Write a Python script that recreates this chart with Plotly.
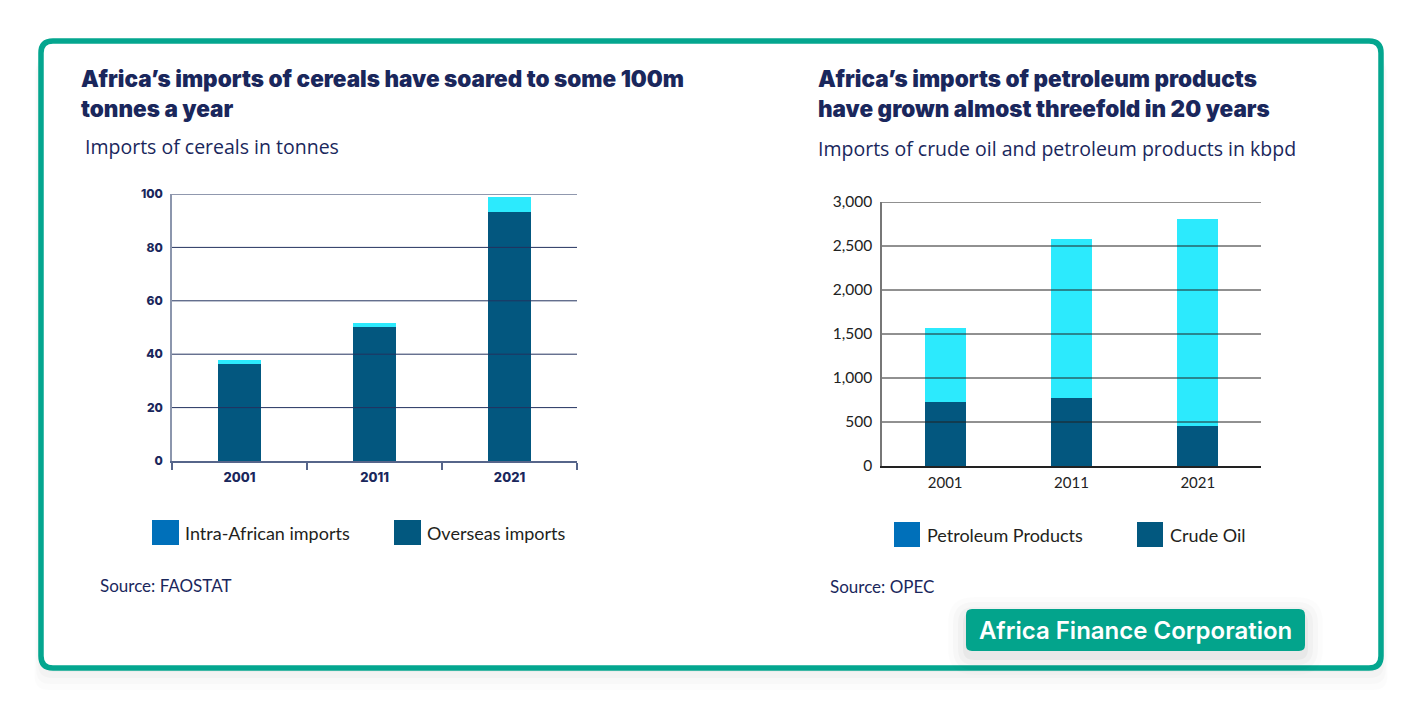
import plotly.graph_objects as go

# ---------------- data ----------------
years = ["2001", "2011", "2021"]
overseas_imports = [36.4, 50.3, 93.3]        # million tonnes
intra_african_imports = [1.4, 1.3, 5.6]      # million tonnes
cereal_ticks = [0, 20, 40, 60, 80, 100]

crude_oil = [726, 771, 452]                  # kbpd
petroleum_products = [843, 1812, 2359]       # kbpd
oil_ticks = [0, 500, 1000, 1500, 2000, 2500, 3000]

# ---------------- styling ----------------
W, H = 1421, 709
OFF = 8          # page body margin compensation
NAVY = "#1a275c"
DARK = "#03577f"
CYAN = "#2ceafd"
SWATCH_BLUE = "#0070ba"
SWATCH_DARK = "#02587f"
TEAL = "#04a68f"
TITLE_FONT = "Inter"
BODY_FONT = "Lato"
SUB_FONT = "Open Sans"


def fx(x):
    return (x - OFF) / W


def fy(y):
    return 1 - (y - OFF) / H


def rrect(x0, y0, x1, y1, r):
    pts = [
        ("M", (x0 + r, y0)), ("L", (x1 - r, y0)),
        ("Q", (x1, y0), (x1, y0 + r)), ("L", (x1, y1 - r)),
        ("Q", (x1, y1), (x1 - r, y1)), ("L", (x0 + r, y1)),
        ("Q", (x0, y1), (x0, y1 - r)), ("L", (x0, y0 + r)),
        ("Q", (x0, y0), (x0 + r, y0)),
    ]
    s = ""
    for p in pts:
        s += p[0] + " " + " ".join(f"{fx(a):.5f},{fy(b):.5f}" for a, b in p[1:]) + " "
    return s + "Z"


fig = go.Figure()

fig.add_trace(go.Bar(x=years, y=overseas_imports, name="Overseas imports",
                     marker=dict(color=DARK, line=dict(width=0)),
                     xaxis="x", yaxis="y", showlegend=False))
fig.add_trace(go.Bar(x=years, y=intra_african_imports, name="Intra-African imports",
                     marker=dict(color=CYAN, line=dict(width=0)),
                     xaxis="x", yaxis="y", showlegend=False))
fig.add_trace(go.Bar(x=years, y=crude_oil, name="Crude Oil",
                     marker=dict(color=DARK, line=dict(width=0)),
                     xaxis="x2", yaxis="y2", showlegend=False))
fig.add_trace(go.Bar(x=years, y=petroleum_products, name="Petroleum Products",
                     marker=dict(color=CYAN, line=dict(width=0)),
                     xaxis="x2", yaxis="y2", showlegend=False))

shapes = []
# shadow below card
for i, a in enumerate([0.025, 0.02, 0.015, 0.01]):
    d = 4 + i * 6
    shapes.append(dict(type="path", xref="paper", yref="paper",
                       path=rrect(41 - d * 0.3, 40 + d, 1381 + d * 0.3, 668 + d, 14),
                       fillcolor=f"rgba(0,0,0,{a})", line=dict(width=0), layer="below"))
shapes.append(dict(type="path", xref="paper", yref="paper",
                   path=rrect(41, 41, 1381, 668, 12),
                   fillcolor="white", line=dict(color=TEAL, width=5.5), layer="below"))

# gridlines drawn over bars
for t in cereal_ticks[1:]:
    shapes.append(dict(type="line", xref="x domain", yref="y", x0=0, x1=1, y0=t, y1=t,
                       line=dict(color="#23325f", width=1), layer="above"))
for t in oil_ticks[1:]:
    shapes.append(dict(type="line", xref="x2 domain", yref="y2", x0=0, x1=1, y0=t, y1=t,
                       line=dict(color="#222222", width=1), layer="above"))

# legend swatches
shapes.append(dict(type="rect", xref="paper", yref="paper", x0=fx(152), x1=fx(179),
                   y0=fy(545), y1=fy(520), fillcolor=SWATCH_BLUE, line=dict(width=0)))
shapes.append(dict(type="rect", xref="paper", yref="paper", x0=fx(394), x1=fx(421),
                   y0=fy(545), y1=fy(520), fillcolor=SWATCH_DARK, line=dict(width=0)))
shapes.append(dict(type="rect", xref="paper", yref="paper", x0=fx(894), x1=fx(920),
                   y0=fy(547), y1=fy(522), fillcolor=SWATCH_BLUE, line=dict(width=0)))
shapes.append(dict(type="rect", xref="paper", yref="paper", x0=fx(1137), x1=fx(1163),
                   y0=fy(547), y1=fy(522), fillcolor=SWATCH_DARK, line=dict(width=0)))

# badge with soft shadow
for i, a in enumerate([0.035, 0.025, 0.018, 0.012]):
    d = 3 + i * 5
    shapes.append(dict(type="path", xref="paper", yref="paper",
                       path=rrect(966 - d, 609 - d + 6, 1305 + d, 651 + d + 6, 8 + d),
                       fillcolor=f"rgba(0,0,0,{a})", line=dict(width=0)))
shapes.append(dict(type="path", xref="paper", yref="paper",
                   path=rrect(966, 609, 1305, 651, 6),
                   fillcolor="#03a48c", line=dict(width=0)))

annotations = []


def txt(x, y, text, size, color, family, weight="normal", xanchor="left"):
    annotations.append(dict(x=fx(x), y=fy(y), xref="paper", yref="paper", text=text,
                            showarrow=False, xanchor=xanchor, yanchor="middle",
                            xshift=-2 if xanchor == "left" else 0,
                            font=dict(size=size, color=color, family=family, weight=weight)))


txt(81, 79, "Africa’s imports of cereals have soared to some 100m", 22.5, NAVY, TITLE_FONT, 900)
txt(81, 108, "tonnes a year", 22.5, NAVY, TITLE_FONT, 900)
txt(85, 146, "Imports of cereals in tonnes", 19.5, NAVY, SUB_FONT, 400)
txt(818, 148, "Imports of crude oil and petroleum products in kbpd", 19.5, NAVY, SUB_FONT, 400)
txt(818, 79, "Africa’s imports of petroleum products", 22.5, NAVY, TITLE_FONT, 900)
txt(818, 108, "have grown almost threefold in 20 years", 22.5, NAVY, TITLE_FONT, 900)

txt(185, 533, "Intra-African imports", 18, "#231f20", BODY_FONT)
txt(427, 533, "Overseas imports", 18, "#231f20", BODY_FONT)
txt(927, 535, "Petroleum Products", 18, "#231f20", BODY_FONT)
txt(1170, 535, "Crude Oil", 18, "#231f20", BODY_FONT)

txt(100, 585, "Source: FAOSTAT", 17, NAVY, BODY_FONT, 400)
txt(830, 586, "Source: OPEC", 17, NAVY, BODY_FONT, 400)

txt(1135.5, 630, "Africa Finance Corporation", 24, "white", "Inter", 600, xanchor="center")

fig.update_layout(
    width=W, height=H,
    margin=dict(l=0, r=0, t=0, b=0, autoexpand=False),
    paper_bgcolor="white", plot_bgcolor="white",
    barmode="stack", bargap=0.675,
    showlegend=False,
    shapes=shapes, annotations=annotations,
    xaxis=dict(domain=[fx(172), fx(577)], anchor="y", type="category", automargin=False,
               showline=True, linecolor="#56658a", linewidth=1.5,
               ticks="outside", tickson="boundaries", ticklen=7, tickcolor="#56658a",
               tickwidth=1.5, showgrid=False,
               tickfont=dict(size=13, color=NAVY, family=TITLE_FONT, weight=800),
               ticklabelstandoff=4),
    yaxis=dict(domain=[fy(461), fy(194)], anchor="x", range=[0, 100], automargin=False,
               tickvals=cereal_ticks, showgrid=False, zeroline=False,
               showline=True, linecolor="#8c96ad", linewidth=1.5, ticks="",
               tickfont=dict(size=12, color=NAVY, family=TITLE_FONT, weight=800),
               ticklabelstandoff=5),
    xaxis2=dict(domain=[fx(882), fx(1261)], anchor="y2", type="category", automargin=False,
                showline=True, linecolor="#222222", linewidth=1.5,
                ticks="", showgrid=False,
                tickfont=dict(size=15, color="#222222", family=BODY_FONT),
                ticklabelstandoff=2),
    yaxis2=dict(domain=[fy(466), fy(202)], anchor="x2", range=[0, 3000], automargin=False,
                tickvals=oil_ticks, tickformat=",", showgrid=False, zeroline=False,
                showline=True, linecolor="#777777", linewidth=1.5, ticks="",
                tickfont=dict(size=15.5, color="#222222", family=BODY_FONT),
                ticklabelstandoff=5),
)

fig.write_html("out.html")
